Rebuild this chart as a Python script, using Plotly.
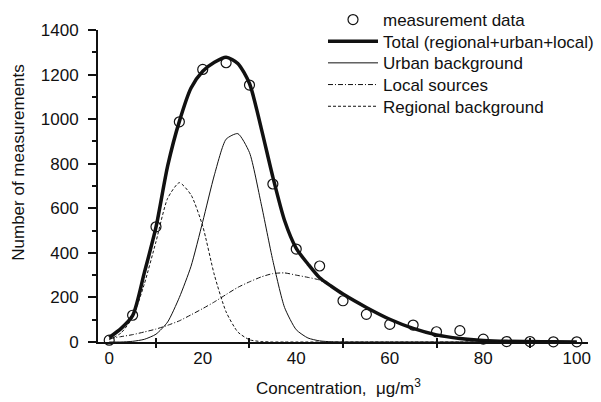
import plotly.graph_objects as go

# measured data points
conc_pts = [0, 5, 10, 15, 20, 25, 30, 35, 40, 45, 50, 55, 60, 65, 70, 75, 80, 85, 90, 95, 100]
meas = [8, 120, 517, 988, 1223, 1253, 1153, 709, 417, 341, 185, 124, 79, 76, 46, 51, 13, 2, 2, 1, 1]

# model curves
x_fit = [0, 2.5, 5, 7.5, 10, 12.5, 15, 17.5, 20, 22.5, 25, 27.5, 30, 32.5, 35, 37.5, 40,
         42.5, 45, 47.5, 50, 55, 60, 65, 70, 75, 80, 85, 90, 95, 100]
total = [20, 60, 118, 310, 515, 790, 990, 1140, 1215, 1255, 1278, 1250, 1160, 960, 740, 545,
         420, 350, 288, 250, 215, 155, 102, 61, 32, 16, 7, 3, 2, 1, 0]
urban = [0, 0, 3, 12, 35, 90, 200, 340, 540, 750, 910, 935, 850, 620, 365, 155, 55, 18, 5, 1,
         0, 0, 0, 0, 0, 0, 0, 0, 0, 0, 0]
local = [15, 24, 33, 45, 58, 75, 95, 122, 150, 180, 213, 245, 270, 292, 307, 310, 300, 290,
         278, 248, 215, 155, 102, 61, 32, 16, 7, 3, 2, 1, 0]
regional = [10, 40, 110, 260, 450, 645, 715, 660, 520, 300, 135, 45, 10, 2, 0, 0, 0, 0, 0, 0,
            0, 0, 0, 0, 0, 0, 0, 0, 0, 0, 0]

x_labels = [0, 20, 40, 60, 80, 100]
x_ticks = [10, 30, 50, 70, 90]

FONT = "Liberation Sans, Arial, sans-serif"
INK = "#111111"

fig = go.Figure()
fig.add_trace(go.Scatter(x=conc_pts, y=meas, mode="markers", name="measurement data",
                         legend="legend",
                         marker=dict(symbol="circle-open", size=10, color=INK, line=dict(width=1.2)),
                         cliponaxis=False))
fig.add_trace(go.Scatter(x=x_fit, y=total, mode="lines", name="Total (regional+urban+local)",
                         legend="legend2",
                         line=dict(color=INK, width=3.5, shape="spline", smoothing=0.7)))
fig.add_trace(go.Scatter(x=x_fit, y=urban, mode="lines", name="Urban background",
                         legend="legend3",
                         line=dict(color=INK, width=1, shape="spline", smoothing=0.6)))
fig.add_trace(go.Scatter(x=x_fit, y=local, mode="lines", name="Local sources",
                         legend="legend4",
                         line=dict(color=INK, width=1, dash="5px,2px,1px,2px", shape="spline", smoothing=0.6)))
fig.add_trace(go.Scatter(x=x_fit, y=regional, mode="lines", name="Regional background",
                         legend="legend5", xaxis="x2",
                         line=dict(color=INK, width=1, dash="3px,2px", shape="spline", smoothing=0.6)))

W_PLOT, H_PLOT, L, T = 490, 312, 98, 30


def leg(ypx):
    return dict(x=(323 - L) / W_PLOT, y=(T + H_PLOT - ypx) / H_PLOT, xanchor="left", yanchor="middle",
                bgcolor="rgba(0,0,0,0)", borderwidth=0, font=dict(size=17, color=INK),
                itemwidth=50)


xr = [-2.4, 102.4]
fig.update_layout(
    width=601, height=402,
    margin=dict(l=L, r=601 - L - W_PLOT, t=T, b=402 - T - H_PLOT, autoexpand=False),
    paper_bgcolor="white", plot_bgcolor="white",
    font=dict(family=FONT, size=17, color=INK),
    showlegend=True,
    legend=leg(20), legend2=leg(41.7), legend3=leg(63.3), legend4=leg(85), legend5=leg(106.7),
    xaxis=dict(range=xr, showline=True, linecolor=INK, linewidth=2,
               showgrid=False, zeroline=False,
               tickvals=x_labels, ticks="", ticklen=0,
               minor=dict(tickvals=x_ticks, ticks="outside", ticklen=4, tickwidth=2, tickcolor=INK),
               tickfont=dict(size=17)),
    xaxis2=dict(range=xr, overlaying="x", anchor="y", side="bottom", showline=False,
                showgrid=False, zeroline=False, showticklabels=False,
                tickvals=x_ticks, ticks="inside", ticklen=4, tickwidth=2, tickcolor=INK),
    yaxis=dict(range=[0, 1400], showline=True, linecolor=INK, linewidth=2,
               showgrid=False, zeroline=False,
               tick0=0, dtick=200, ticks="outside", ticklen=8, tickwidth=2, tickcolor=INK,
               ticklabelstandoff=6,
               minor=dict(dtick=100, ticks="outside", ticklen=4, tickwidth=1.5, tickcolor=INK),
               tickfont=dict(size=17)),
    annotations=[
        dict(text="Number of measurements", textangle=-90, xref="paper", yref="paper",
             x=-0.163, y=0.575, xanchor="center", yanchor="middle", showarrow=False,
             font=dict(size=17)),
        dict(text="Concentration,  \u03bcg/m<sup>3</sup>", xref="paper", yref="paper",
             x=0.49, y=-0.145, xanchor="center", yanchor="middle", showarrow=False,
             font=dict(size=17)),
    ],
)

fig.write_html("out.html")
